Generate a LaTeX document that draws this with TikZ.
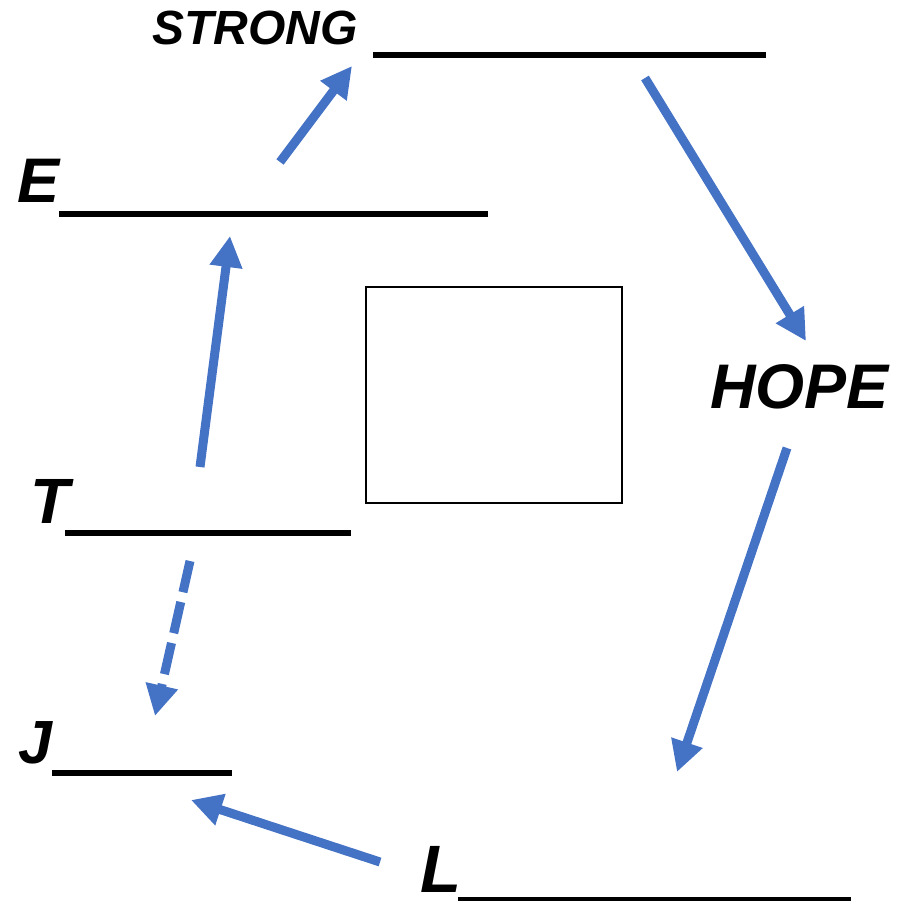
\documentclass[tikz,border=0pt]{standalone}
\usepackage{fontspec}
\setmainfont{Liberation Sans}
\usetikzlibrary{arrows.meta}
\definecolor{arrowblue}{HTML}{4472C4}
\tikzset{
  lbl/.style={anchor=base west, inner sep=0pt, font=\bfseries\itshape},
  blank/.style={line width=5.5pt, black},
  flow/.style={line width=9pt, arrowblue, -{Triangle[length=31pt,width=31pt]}},
}
\begin{document}
\begin{tikzpicture}[x=1pt,y=-1pt]
\useasboundingbox (0,0) rectangle (915,901);
% labels
\node[lbl, font=\bfseries\itshape\fontsize{48}{52}\selectfont] (strong) at (152,45) {STRONG};
\node[lbl, font=\bfseries\itshape\fontsize{63}{66}\selectfont] (e) at (17,203) {E};
\node[lbl, font=\bfseries\itshape\fontsize{64}{68}\selectfont] (t) at (30,523) {T};
\node[lbl, font=\bfseries\itshape\fontsize{61}{66}\selectfont] (j) at (18,763) {J};
\node[lbl, font=\bfseries\itshape\fontsize{67}{70}\selectfont] (l) at (420,892) {L};
\node[lbl, font=\bfseries\itshape\fontsize{63}{66}\selectfont] (hope) at (710,408) {HOPE};
% blanks
\coordinate (s1) at (373,55); \coordinate (s2) at (766,55);
\coordinate (e1) at (59,214); \coordinate (e2) at (488,214);
\coordinate (t1) at (65,533); \coordinate (t2) at (351,533);
\coordinate (j1) at (52,773); \coordinate (j2) at (232,773);
\coordinate (l1) at (458,899.5); \coordinate (l2) at (851,899.5);
\draw[blank] (s1) -- (s2);
\draw[blank] (e1) -- (e2);
\draw[blank] (t1) -- (t2);
\draw[blank] (j1) -- (j2);
\draw[blank] (l1) -- (l2);
% box
\node[draw, line width=2.5pt, outer sep=0pt, minimum width=256pt, minimum height=216pt, anchor=north west, inner sep=0pt] (box) at (366,287) {};
% arrow end points
\coordinate (a1s) at (280,162); \coordinate (a1e) at (352,66);
\coordinate (a2s) at (645,78);  \coordinate (a2e) at (806,341);
\coordinate (a3s) at (787,448); \coordinate (a3e) at (677,772);
\coordinate (a4s) at (380,862); \coordinate (a4e) at (191,800);
\coordinate (a5s) at (200,467); \coordinate (a5e) at (230,236);
\coordinate (a6s) at (190,561); \coordinate (a6e) at (155,716);
\draw[flow] (a1s) -- (a1e);
\draw[flow] (a2s) -- (a2e);
\draw[flow] (a3s) -- (a3e);
\draw[flow] (a4s) -- (a4e);
\draw[flow] (a5s) -- (a5e);
\draw[flow, dash pattern=on 32pt off 10pt] (a6s) -- (a6e);
\end{tikzpicture}
\end{document}
